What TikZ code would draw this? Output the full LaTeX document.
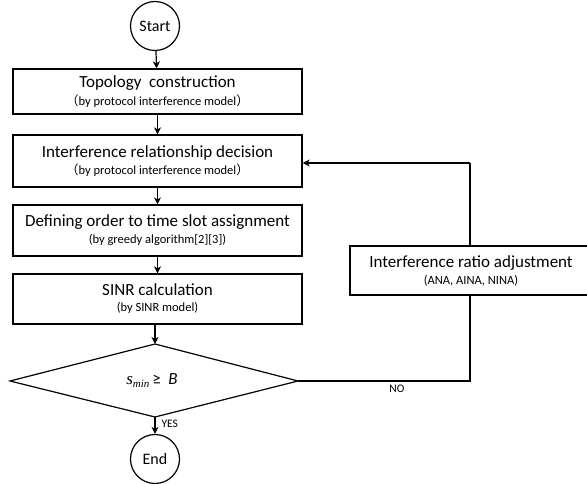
\documentclass[tikz,border=0pt]{standalone}
\usepackage{fontspec}
\setmainfont{Carlito}
\newfontfamily\cjkfont{Noto Sans CJK SC}
\newfontfamily\serifit{Liberation Serif}[UprightFont=*-Italic]
\usetikzlibrary{arrows.meta,shapes.geometric}
\begin{document}
\begin{tikzpicture}[x=1pt,y=-1pt,
  line width=1.2pt,
  every node/.style={inner sep=0pt},
  procbox/.style={draw,fill=white,rectangle,align=center},
  termnode/.style={draw,fill=white,circle,minimum size=49pt,font=\fontsize{16}{18}\selectfont},
  flow/.style={-{Stealth[length=7pt,width=7pt,inset=2pt]}},
  lbl/.style={font=\fontsize{11.5}{13}\selectfont}]
\useasboundingbox (0,0) rectangle (587,484);
\newcommand{\sub}[1]{{\fontsize{12.5}{14}\selectfont #1}}
\newcommand{\fwl}{{\cjkfont（}}
\newcommand{\fwr}{{\cjkfont）}}

\node[termnode] (start) at (155,26) {Start};
\node[procbox,minimum width=289pt,minimum height=45pt] (b1) at (157.5,91.5)
  {{\fontsize{17}{20}\selectfont Topology\ \ construction}\\[3pt]\sub{\fwl by protocol interference model\fwr}};
\node[procbox,minimum width=289pt,minimum height=52pt] (b2) at (157.5,161)
  {{\fontsize{17}{20}\selectfont Interference relationship decision}\\[3pt]\sub{\fwl by protocol interference model\fwr}};
\node[procbox,minimum width=289pt,minimum height=51pt] (b3) at (157.5,230.5)
  {{\fontsize{17}{20}\selectfont Defining order to time slot assignment}\\[4pt]\sub{(by greedy algorithm[2][3])}};
\node[procbox,minimum width=289pt,minimum height=50pt] (b4) at (157.5,299)
  {{\fontsize{17}{20}\selectfont SINR calculation}\\[4pt]\sub{(by SINR model)}};
\coordinate (dl) at (10,381);
\coordinate (dr) at (298,381);
\coordinate (dt) at (155,344);
\coordinate (db) at (155,417);
\draw (dl) -- (dt) -- (dr) -- (db) -- cycle;
\node (cond) at (152,381) {\fontsize{17}{20}\selectfont{\serifit\fontsize{17}{20}\selectfont s\raisebox{-3pt}{\fontsize{11}{12}\selectfont min}}\,≥\ \ \textit{B}};
\node[termnode] (end) at (155,459) {End};

\coordinate (cr) at (470,381);
\coordinate (ct) at (470,163);
\draw (dr) -- (cr) -- (ct);
\draw[flow] (ct) -- (b2.east |- ct);
\node[procbox,minimum width=242pt,minimum height=49pt] (adj) at (471,270.5)
  {{\fontsize{17}{20}\selectfont Interference ratio adjustment}\\[4pt]\sub{(ANA, AINA, NINA)}};

\draw[flow] (start) -- (b1);
\draw[flow] (b1) -- (b2);
\draw[flow] (b2) -- (b3);
\draw[flow] (b3) -- (b4);
\draw[flow] (b4.south -| dt) -- (dt);
\draw[flow] (db) -- (end);
\node[lbl,anchor=west] (yes) at (161,424) {YES};
\node[lbl] (no) at (397,389) {NO};
\end{tikzpicture}
\end{document}
